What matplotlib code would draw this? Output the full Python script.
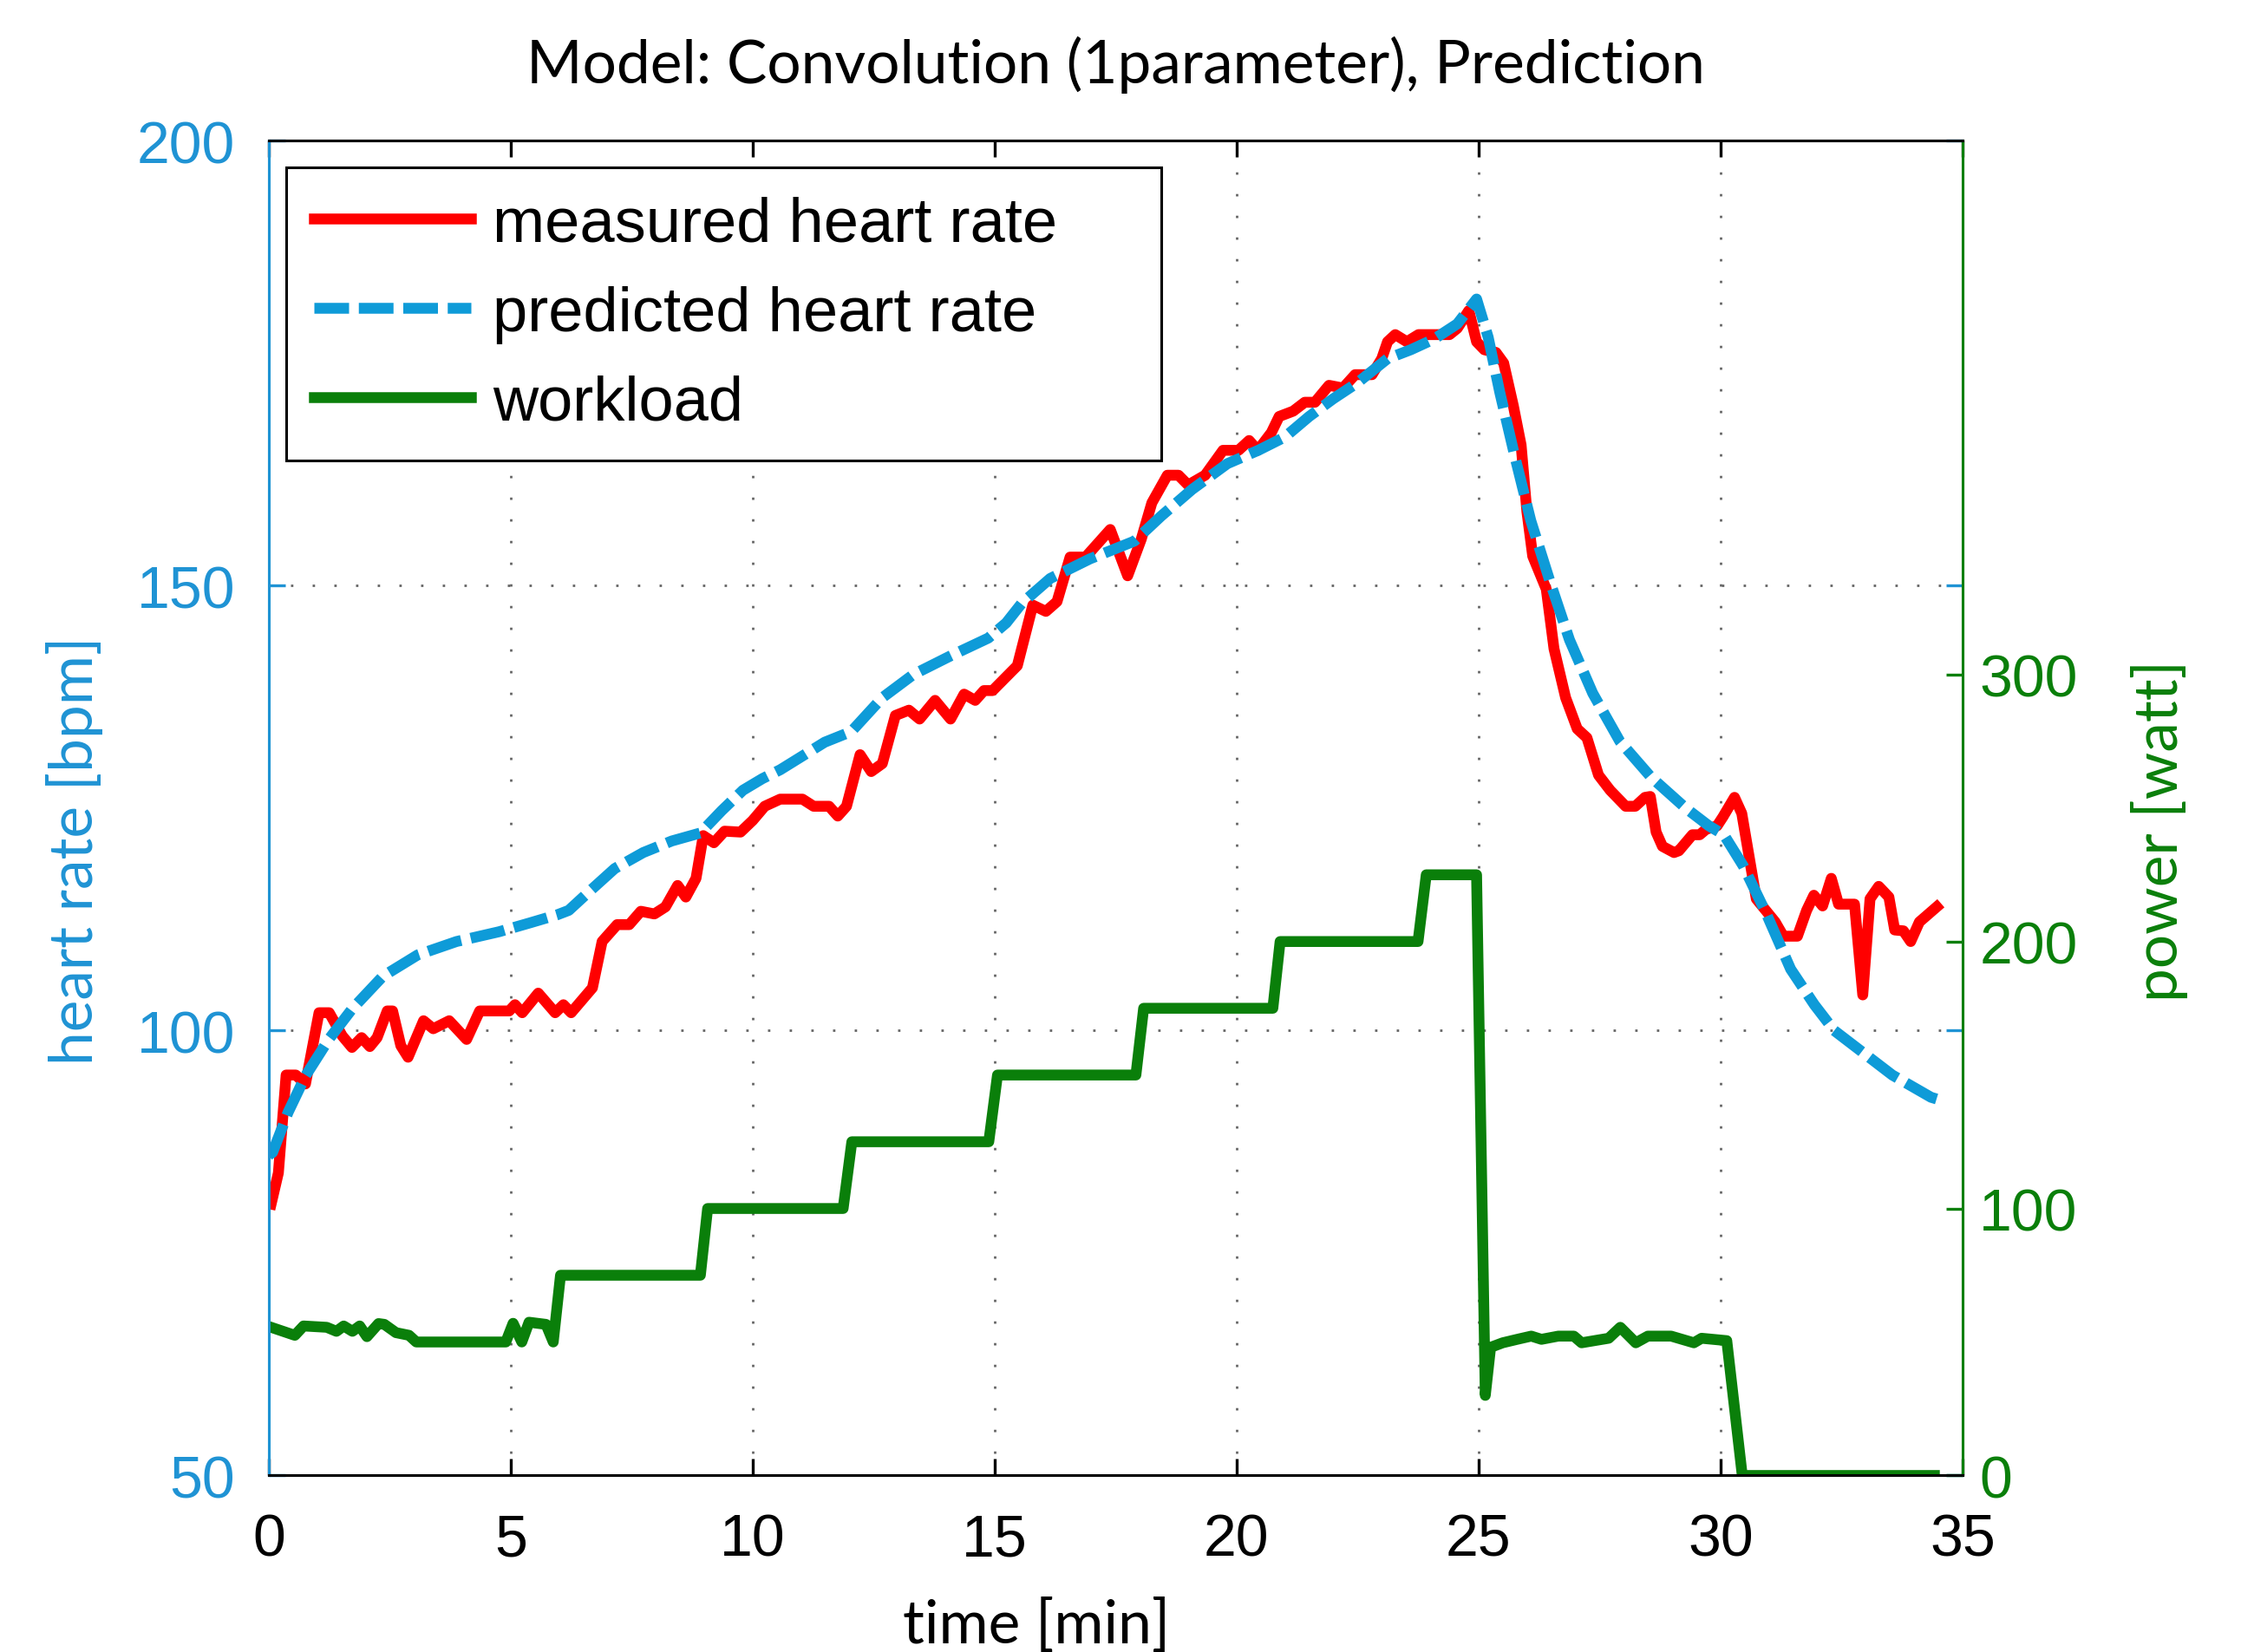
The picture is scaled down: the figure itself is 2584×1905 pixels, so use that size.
"""Heart rate model: measured vs predicted heart rate, with the workload on a second axis."""

import matplotlib
matplotlib.use("Agg")
import matplotlib.pyplot as plt

# measured heart rate [bpm]
hr_time = [0.05, 0.2, 0.36, 0.56, 0.76, 1.04, 1.25, 1.52, 1.72, 1.92, 2.09, 2.24, 2.45, 2.56,
           2.73, 2.88, 3.2, 3.4, 3.73, 4.09, 4.36, 4.97, 5.09, 5.24, 5.57, 5.92, 6.09, 6.25,
           6.69, 6.89, 7.2, 7.45, 7.69, 7.97, 8.2, 8.45, 8.62, 8.83, 8.98, 9.2, 9.42, 9.75,
           10.0, 10.25, 10.57, 11.03, 11.26, 11.58, 11.76, 11.94, 12.22, 12.45, 12.68, 12.95,
           13.23, 13.45, 13.77, 14.09, 14.37, 14.6, 14.78, 14.96, 15.47, 15.79, 16.06, 16.29,
           16.56, 16.88, 17.39, 17.75, 18.03, 18.25, 18.57, 18.8, 19.0, 19.35, 19.72, 20.04,
           20.26, 20.44, 20.72, 20.88, 21.17, 21.41, 21.62, 21.91, 22.2, 22.45, 22.8, 23.0,
           23.12, 23.28, 23.52, 23.76, 24.4, 24.56, 24.8, 24.96, 25.12, 25.36, 25.52, 25.72,
           25.88, 26.0, 26.12, 26.4, 26.56, 26.8, 27.04, 27.24, 27.48, 27.72, 28.04, 28.24,
           28.44, 28.55, 28.67, 28.8, 29.04, 29.14, 29.42, 29.57, 29.7, 29.93, 30.05, 30.29,
           30.44, 30.74, 30.98, 31.13, 31.3, 31.59, 31.78, 31.93, 32.11, 32.29, 32.44, 32.77,
           32.94, 33.09, 33.27, 33.48, 33.6, 33.78, 33.93, 34.11, 34.47]
hr_measured = [80.5, 84.0, 95.0, 95.0, 94.0, 102.0, 102.0, 99.4, 98.1, 99.2, 98.2, 99.2, 102.2, 102.2,
               98.3, 97.0, 101.1, 100.2, 101.1, 99.0, 102.2, 102.2, 102.9, 102.0, 104.2, 102.0, 102.9, 102.0,
               104.8, 110.0, 111.9, 111.9, 113.4, 113.1, 113.9, 116.3, 115.0, 117.1, 121.9, 121.1, 122.4, 122.3,
               123.6, 125.2, 126.0, 126.0, 125.2, 125.2, 124.1, 125.2, 131.0, 129.1, 130.0, 135.4,
               136.0, 135.0, 137.1, 135.0, 137.8, 137.1, 138.2, 138.2, 141.0, 147.8, 147.1, 148.2,
               153.2, 153.2, 156.3, 151.1, 155.2, 159.3, 162.4, 162.4, 161.3, 162.4, 165.2, 165.2,
               166.3, 165.2, 167.2, 169.0, 169.6, 170.6, 170.6, 172.5, 172.2, 173.7, 173.7, 175.5,
               177.4, 178.2, 177.4, 178.2, 178.2, 178.9, 180.9, 177.4, 176.5, 176.2, 175.0, 170.2,
               165.8, 158.3, 153.3, 149.6, 142.9, 137.4, 133.9, 132.9, 128.7, 127.0, 125.2, 125.2,
               126.2, 126.3, 122.3, 120.7, 120.0, 120.2, 122.0, 122.0, 122.6, 123.0, 124.0, 126.2,
               124.4, 114.8, 113.2, 112.2, 110.6, 110.6, 113.5, 115.2, 114.0, 117.1, 114.2, 114.2,
               104.0, 114.8, 116.2, 115.0, 111.3, 111.2, 110.0, 112.2, 113.9]

# predicted heart rate [bpm]
pred_time = [0.0, 0.08, 0.4, 0.76, 1.24, 1.72, 2.36, 3.08, 3.88, 4.76, 5.4, 5.96, 6.2, 6.6,
             7.15, 7.74, 8.33, 8.92, 9.36, 9.8, 10.2, 10.57, 11.49, 12.04, 12.68, 13.32, 14.09,
             14.87, 15.24, 15.56, 16.15, 16.97, 17.89, 18.44, 19.08, 19.81, 20.45, 21.0, 21.5,
             22.0, 22.5, 23.12, 23.6, 24.08, 24.56, 24.96, 25.2, 25.44, 25.76, 26.08, 26.48,
             26.88, 27.36, 27.92, 28.56, 29.28, 29.76, 30.07, 30.47, 30.95, 31.45, 31.94, 32.35,
             33.55, 34.35, 34.47]
hr_predicted = [86.0, 86.3, 90.8, 94.9, 99.0, 102.4, 106.1, 108.5, 110.0, 111.1, 112.1, 113.0, 113.5, 115.5,
                118.2, 120.0, 121.3, 122.2, 124.7, 127.0, 128.3, 129.3, 132.4, 133.6, 137.4, 140.0, 142.1,
                144.1, 145.8, 148.0, 150.8, 153.0, 155.0, 157.8, 160.8, 163.7, 165.2, 166.7, 169.0,
                171.0, 172.8, 175.5, 176.5, 177.7, 179.4, 182.2, 177.9, 171.7, 164.3, 157.3, 150.4,
                143.9, 137.9, 132.5, 128.5, 125.0, 123.0, 122.0, 118.5, 113.1, 106.9, 102.9, 100.0,
                95.0, 92.5, 92.3]

# ergometer workload [watt]
load_time = [0.05, 0.54, 0.72, 1.2, 1.4, 1.55, 1.73, 1.88, 2.03, 2.27, 2.39, 2.63, 2.9, 3.05,
             4.9, 5.05, 5.23, 5.38, 5.73, 5.88, 6.03, 8.92, 9.07, 11.87, 12.05, 14.88, 15.06,
             17.92, 18.08, 20.75, 20.9, 23.75, 23.92, 24.96, 25.14, 25.25, 25.5, 25.8, 26.09,
             26.3, 26.65, 26.97, 27.13, 27.69, 27.93, 28.25, 28.5, 28.98, 29.45, 29.61, 30.13,
             30.45, 34.42]
load_watt = [55.5, 52.5, 56.0, 55.5, 54.0, 56.0, 54.0, 56.0, 52.0, 56.9, 56.6, 53.5, 52.5, 50.0,
             50.0, 57.0, 50.0, 57.4, 56.6, 50.0, 75.0, 75.0, 100.0, 100.0, 125.0, 125.0, 150.0,
             150.0, 175.0, 175.0, 200.0, 200.0, 225.0, 225.0, 30.0, 48.0, 49.7, 51.0, 52.2,
             51.0, 52.2, 52.2, 49.7, 51.4, 55.5, 49.7, 52.2, 52.2, 49.7, 51.4, 50.5,
             0.0, 0.0]

RED = "#ff0000"
BLUE = "#0e9bd8"
BLUE_AXIS = "#1f93d4"
GREEN = "#0a7f0a"
TEXT_FONT = ["Lato", "DejaVu Sans"]

plt.rcParams["font.family"] = ["Liberation Sans", "DejaVu Sans"]


def plot_prediction():
    """Draw measured/predicted heart rate on the left axis and workload on the right."""
    fig, ax = plt.subplots(figsize=(12.92, 9.53), dpi=200)
    fig.subplots_adjust(left=0.1199, right=0.8757, bottom=0.1068, top=0.9144)
    ax2 = ax.twinx()

    grid_style = dict(color="0.4", linestyle=(0, (1, 8)), linewidth=1.0)
    ax.grid(True, **grid_style)
    ax.set_axisbelow(True)

    l_meas, = ax.plot(hr_time, hr_measured, color=RED, linewidth=4.5, label="measured heart rate")
    l_pred, = ax.plot(pred_time, hr_predicted, color=BLUE, linewidth=4.5,
                      dashes=(3.2, 0.9), label="predicted heart rate")
    l_load, = ax2.plot(load_time, load_watt, color=GREEN, linewidth=4.5, label="workload")

    ax.set_xlim(0, 35)
    ax.set_xticks(range(0, 36, 5))
    ax.set_ylim(50, 200)
    ax.set_yticks([50, 100, 150, 200])
    ax2.set_ylim(0, 500)
    ax2.set_yticks([0, 100, 200, 300])

    ax.tick_params(axis="x", direction="in", top=True, bottom=True, length=7, width=1.2,
                   labelsize=24.5, pad=15, colors="black")
    ax.tick_params(axis="y", direction="in", left=True, right=True, length=7, width=1.2,
                   labelsize=24.5, pad=14, colors=BLUE_AXIS)
    ax2.tick_params(axis="y", direction="in", length=7, width=1.2, labelsize=24.5, pad=7,
                    colors=GREEN)

    for a in (ax, ax2):
        a.spines["left"].set_color(BLUE_AXIS)
        a.spines["right"].set_color(GREEN)
        a.spines["top"].set_color("black")
        a.spines["bottom"].set_color("black")
        for s in a.spines.values():
            s.set_linewidth(1.1)

    ax.set_title("Model: Convolution (1parameter), Prediction", family=TEXT_FONT,
                 fontweight="normal", fontsize=25, pad=24)
    fig.text(0.4625, 0.033, "time [min]", family=TEXT_FONT, fontweight="normal",
             fontsize=25, ha="center", va="top")
    fig.text(0.0332, 0.4855, "heart rate [bpm]", family=TEXT_FONT, fontweight="normal",
             fontsize=25, color=BLUE_AXIS, rotation=90, ha="center", va="center")
    fig.text(0.9637, 0.4974, "power [watt]", family=TEXT_FONT, fontweight="normal",
             fontsize=25, color=GREEN, rotation=90, ha="center", va="center")

    leg = ax2.legend(handles=[l_meas, l_pred, l_load], loc="upper left",
                     bbox_to_anchor=(0.0102, 0.771, 0.517, 0.209), mode="expand",
                     borderaxespad=0, borderpad=0.45, fontsize=26, handlelength=2.5,
                     handletextpad=0.35, labelspacing=0.5, fancybox=False, framealpha=1,
                     edgecolor="black")
    leg.get_frame().set_linewidth(1.1)

    return fig


if __name__ == "__main__":
    fig = plot_prediction()
    fig.savefig("out.png", dpi=200)
